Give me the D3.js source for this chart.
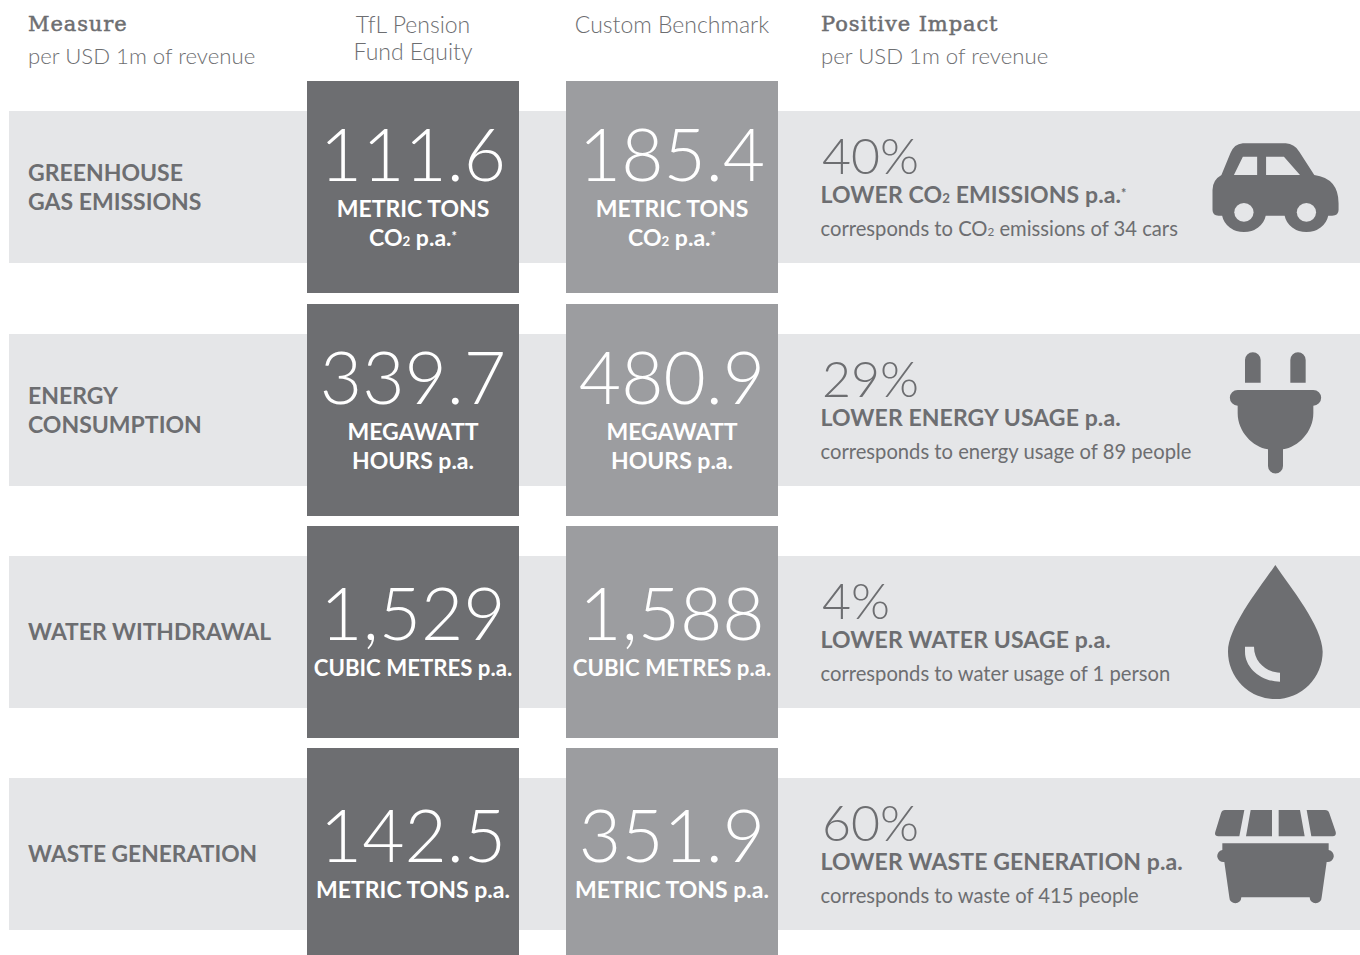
<!DOCTYPE html>
<html>
<head>
<meta charset="utf-8">
<script src="https://cdn.jsdelivr.net/npm/d3@7"></script>
<style>
  html, body { margin: 0; background: #fff; overflow: hidden; }
  text { font-family: Lato, sans-serif; }
</style>
</head>
<body>
<div id="chart"></div>
<script>
const width = 1360;
const height = 955;

// data
const measures = ["GREENHOUSE\nGAS EMISSIONS", "ENERGY\nCONSUMPTION", "WATER WITHDRAWAL", "WASTE GENERATION"];
const tflValues = [111.6, 339.7, 1529, 142.5];
const benchmarkValues = [185.4, 480.9, 1588, 351.9];
const units = ["METRIC TONS\nCO₂ p.a.*", "MEGAWATT\nHOURS p.a.", "CUBIC METRES p.a.", "METRIC TONS p.a."];
const impactPercents = [40, 29, 4, 60];
const impactLabels = ["LOWER CO₂ EMISSIONS p.a.", "LOWER ENERGY USAGE p.a.", "LOWER WATER USAGE p.a.", "LOWER WASTE GENERATION p.a."];
const impactStars = ["*", "", "", ""];
const impactNotes = ["corresponds to CO₂ emissions of 34 cars", "corresponds to energy usage of 89 people", "corresponds to water usage of 1 person", "corresponds to waste of 415 people"];
const columns = ["TfL Pension\nFund Equity", "Custom Benchmark"];
const subHeader = "per USD 1m of revenue";

const dark = "#6d6e71";
const mid = "#9c9da0";
const band = "#e5e6e8";

const svg = d3.select("#chart").append("svg")
    .attr("width", width)
    .attr("height", height)
    .style("display", "block");

const y = d3.scalePoint().domain(measures).range([111.4, 778.4]);
const x = d3.scaleBand().domain(columns).range([307, 778]).paddingInner(47 / 259);
const rowY = (d) => Math.round(y(d));

const rowHeight = 152;
const boxOverhang = 30;
const boxSize = x.bandwidth();

const fmt = (v) => v >= 1000 ? d3.format(",")(v) : d3.format(".1f")(v);

// writes a string into a text node, small 2 and raised asterisk as tspans
function richText(sel, str) {
    sel.each(function () {
        const t = d3.select(this);
        let back = null;
        str.split(/(₂|\*)/).filter(s => s !== "").forEach((s) => {
            const span = t.append("tspan");
            if (s === "₂") {
                span.text("2").style("font-size", "58%");
            } else if (s === "*") {
                span.text("*").style("font-size", "55%").attr("dy", -5);
                back = 5;
            } else {
                span.text(s);
                if (back) { span.attr("dy", back); back = null; }
            }
        });
    });
}

// grey row bands
svg.selectAll("rect.band").data(measures).enter().append("rect")
    .attr("class", "band")
    .attr("x", 9)
    .attr("y", rowY)
    .attr("width", width - 9)
    .attr("height", rowHeight)
    .attr("fill", band);

// headers
function serifHead(xPos, str) {
    svg.append("text").attr("x", xPos).attr("y", 31).text(str)
        .attr("fill", dark)
        .attr("stroke", dark)
        .attr("stroke-width", 0.5)
        .style("font-family", "'DejaVu Serif', serif")
        .style("font-size", "21px")
        .style("letter-spacing", "0.9px");
}
function subHead(xPos) {
    svg.append("text").attr("x", xPos).attr("y", 64).text(subHeader)
        .attr("fill", dark)
        .style("font-weight", 300)
        .style("font-size", "22.2px");
}
serifHead(28, "Measure");
subHead(28);
serifHead(821, "Positive Impact");
subHead(821);

columns.forEach((c) => {
    c.split("\n").forEach((l, i) => {
        svg.append("text")
            .attr("x", x(c) + boxSize / 2)
            .attr("y", 33 + i * 26.5)
            .attr("text-anchor", "middle")
            .attr("fill", dark)
            .style("font-weight", 300)
            .style("font-size", "23px")
            .text(l);
    });
});

// measure names
measures.forEach((m) => {
    const lines = m.split("\n");
    const top = rowY(m) + (lines.length > 1 ? 70 : 84);
    lines.forEach((l, i) => {
        svg.append("text")
            .attr("x", 28)
            .attr("y", top + i * 29)
            .attr("fill", dark)
            .style("font-weight", 700)
            .style("font-size", l.length > 15 ? "22.8px" : "23px")
            .text(l);
    });
});

// value boxes
const series = [
    { col: columns[0], values: tflValues, color: dark },
    { col: columns[1], values: benchmarkValues, color: mid }
];
series.forEach((s) => {
    const cx = x(s.col) + boxSize / 2;
    const g = svg.append("g");
    g.selectAll("rect").data(measures).enter().append("rect")
        .attr("x", x(s.col))
        .attr("y", (d) => rowY(d) - boxOverhang)
        .attr("width", boxSize)
        .attr("height", boxSize)
        .attr("fill", s.color);

    measures.forEach((m, i) => {
        const lines = units[i].split("\n");
        const two = lines.length > 1;
        g.append("text")
            .attr("x", cx)
            .attr("y", rowY(m) + (two ? 69.5 : 83.5))
            .attr("text-anchor", "middle")
            .attr("fill", "#fff")
            .style("font-weight", 300)
            .style("font-size", "73px")
            .text(fmt(s.values[i]));
        lines.forEach((l, j) => {
            g.append("text")
                .attr("x", cx)
                .attr("y", rowY(m) + (two ? 106 : 120) + j * 28.5)
                .attr("text-anchor", "middle")
                .attr("fill", "#fff")
                .style("font-weight", 700)
                .style("font-size", l.length > 16 ? "22.2px" : "23px")
                .call(richText, l);
        });
    });
});

// impact column
measures.forEach((m, i) => {
    const top = rowY(m);
    svg.append("text")
        .attr("x", 822).attr("y", top + 63)
        .attr("fill", dark)
        .style("font-weight", 300)
        .style("font-size", "50px")
        .text(impactPercents[i] + "%");
    const t = svg.append("text")
        .attr("x", 820.5).attr("y", top + 92)
        .attr("fill", dark)
        .style("font-weight", 700)
        .style("font-size", "23px")
        .style("letter-spacing", "0.1px")
        .call(richText, impactLabels[i]);
    // asterisk goes in its own text so it stays clear of the percent above
    if (impactStars[i]) {
        svg.append("text")
            .attr("x", 820.5 + t.node().getComputedTextLength())
            .attr("y", top + 87)
            .attr("fill", dark)
            .style("font-weight", 700)
            .style("font-size", "12.6px")
            .text(impactStars[i]);
    }
    svg.append("text")
        .attr("x", 820.5).attr("y", top + 125)
        .attr("fill", dark)
        .style("font-weight", 400)
        .style("font-size", "20.2px")
        .call(richText, impactNotes[i]);
});

// icons, drawn in zoomed pixel units and scaled down
const iconCar = "M1240 430H1360Q1385 432 1398 455L1440 525Q1508 535 1508 610V630Q1508 647 1490 647H1479A62 60 0 0 1 1357 647H1304A62 60 0 0 1 1182 647H1172Q1155 647 1155 630V570Q1155 540 1180 525L1205 460Q1215 432 1240 430Z"
    + "M1240 470H1280V525H1215Z M1305 470H1355L1400 525H1305Z";
const iconPlug = "M165 60A23 23 0 0 1 212 60V128H165Z M301 60A23 23 0 0 1 347 60V128H301Z"
    + "M143 150H370A23 23 0 0 1 370 197V220C370 275 325 322 279 328V378A22 22 0 0 1 234 378V328C188 322 143 275 143 220V197A23 23 0 0 1 143 150Z";
const iconDrop = "M256 675C300 740 398 860 398 935A142 142 0 0 1 114 935C114 860 212 740 256 675Z"
    + "M165 920V935C165 985 215 1025 270 1025V998C235 998 192 970 192 920Z";
const iconBin = "M105 60H163L148 139H85Q72 139 76 125L93 70Q96 60 105 60Z M182 60H246V139H168Z M266 60H330L344 139H266Z M350 60H405Q415 60 418 70L437 125Q440 139 428 139H364Z"
    + "M97 160H416V180A17 17 0 0 1 410 216L395 322A18 18 0 0 1 359 322H154A18 18 0 0 1 118 322L103 216A17 17 0 0 1 97 180Z";

const icons = [
    { d: iconCar, ox: 800, oy: -111, sx: 1 / 2.8, sy: 1 / 3, wheels: [[1243, 637], [1418, 637]] },
    { d: iconPlug, ox: 1190, oy: 340 - 334, sx: 1 / 3, sy: 1 / 3 },
    { d: iconDrop, ox: 1190, oy: 340 - 556, sx: 1 / 3, sy: 1 / 3 },
    { d: iconBin, ox: 1190, oy: 790 - 778, sx: 1 / 3, sy: 1 / 3 }
];
icons.forEach((ic, i) => {
    const g = svg.append("g")
        .attr("transform", `translate(${ic.ox},${rowY(measures[i]) + ic.oy}) scale(${ic.sx},${ic.sy})`);
    g.append("path").attr("d", ic.d).attr("fill", dark).attr("fill-rule", "evenodd");
    (ic.wheels || []).forEach((w) => {
        g.append("ellipse").attr("cx", w[0]).attr("cy", w[1])
            .attr("rx", 27).attr("ry", 28).attr("fill", band);
    });
});
</script>
</body>
</html>
